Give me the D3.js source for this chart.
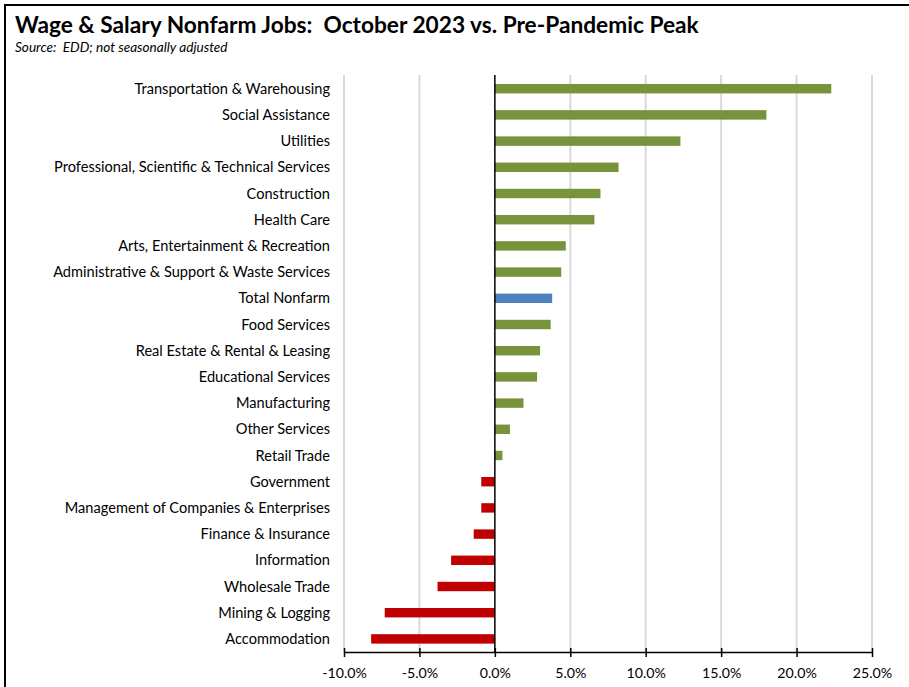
<!DOCTYPE html>
<html><head><meta charset="utf-8">
<script src="https://cdn.jsdelivr.net/npm/d3@7"></script>
<style>body{margin:0;background:#fff}svg{display:block}text{white-space:pre}</style>
</head><body>
<script>
const categories = ["Transportation & Warehousing","Social Assistance","Utilities","Professional, Scientific & Technical Services","Construction","Health Care","Arts, Entertainment & Recreation","Administrative & Support & Waste Services","Total Nonfarm","Food Services","Real Estate & Rental & Leasing","Educational Services","Manufacturing","Other Services","Retail Trade","Government","Management of Companies & Enterprises","Finance & Insurance","Information","Wholesale Trade","Mining & Logging","Accommodation"];
const values = [22.3,18.0,12.3,8.2,7.0,6.6,4.7,4.4,3.8,3.7,3.0,2.8,1.9,1.0,0.5,-0.9,-0.9,-1.4,-2.9,-3.8,-7.3,-8.2];
const tickValues = [-10,-5,0,5,10,15,20,25];
const title = "Wage & Salary Nonfarm Jobs:  October 2023 vs. Pre-Pandemic Peak";
const subtitle = "Source:  EDD; not seasonally adjusted";

const W = 909, H = 687;
const svg = d3.select("body").append("svg").attr("width", W).attr("height", H);
const font = "Lato, 'Open Sans', sans-serif";

// frame
svg.append("path").attr("d", `M5,${H} L5,5 L${W},5`).attr("fill","none").attr("stroke","#000").attr("stroke-width",2);

svg.append("text").attr("x",15).attr("y",33).text(title)
  .attr("font-family",font).attr("font-weight","bold").attr("font-size",22.7).attr("fill","#000");
svg.append("text").attr("x",15).attr("y",52).text(subtitle)
  .attr("font-family",font).attr("font-style","italic").attr("font-size",13.6).attr("fill","#000");

const x = d3.scaleLinear().domain([-10,25]).range([344,872]);
const y = d3.scaleBand().domain(categories).range([75.6,652]).paddingInner(0.64).paddingOuter(0.32);

// gridlines
svg.append("g").selectAll("line").data(tickValues.filter(t=>t!==0)).join("line")
  .attr("x1",d=>x(d)).attr("x2",d=>x(d)).attr("y1",75).attr("y2",652)
  .attr("stroke","#d9d9d9").attr("stroke-width",2);

// bars
svg.append("g").selectAll("rect").data(categories).join("rect")
  .attr("x",(d,i)=>x(Math.min(0,values[i])))
  .attr("width",(d,i)=>Math.abs(x(values[i])-x(0)))
  .attr("y",d=>y(d)).attr("height",y.bandwidth())
  .attr("fill",(d,i)=> d==="Total Nonfarm" ? "#4F81BD" : (values[i]<0 ? "#C00000" : "#77933C"));

// zero line
svg.append("line").attr("x1",x(0)).attr("x2",x(0)).attr("y1",75).attr("y2",652)
  .attr("stroke","#000").attr("stroke-width",1.5);

// category labels
svg.append("g").selectAll("text").data(categories).join("text")
  .attr("x",330).attr("y",d=>y(d)+y.bandwidth()/2).attr("dy","0.35em")
  .attr("text-anchor","end").attr("font-family",font).attr("font-size",14.6).attr("fill","#000")
  .text(d=>d);

// x axis
const xAxis = d3.axisBottom(x).tickValues(tickValues).tickSize(0).tickFormat(d=>d.toFixed(1)+"%");
const ax = svg.append("g").attr("transform","translate(0,652)").call(xAxis);
ax.select(".domain").attr("stroke","#000").attr("stroke-width",1.5);
ax.selectAll(".tick line").remove();
ax.selectAll(".tick").append("line").attr("y1",-4).attr("y2",5).attr("stroke","#000").attr("stroke-width",1.5);
ax.selectAll(".tick text").attr("y",21).attr("dy","0.32em").attr("font-family",font).attr("font-size",14.2).attr("fill","#000");
</script>
</body></html>
